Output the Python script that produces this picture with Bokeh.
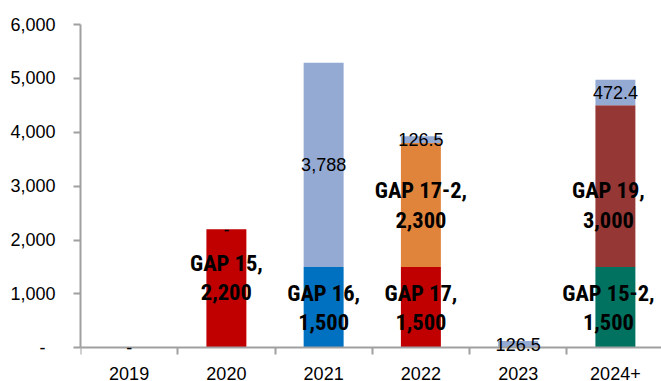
import numpy as np
from bokeh.plotting import figure
from bokeh.models import ColumnDataSource, FixedTicker, Range1d
from bokeh.core.properties import value
from bokeh.embed import file_html
from bokeh.resources import INLINE

# Delivery schedule by year, stacked by programme
years = ["2019", "2020", "2021", "2022", "2023", "2024+"]

base_names = ["", "GAP 15", "GAP 16", "GAP 17", "", "GAP 15-2"]
base_vals = [0, 2200, 1500, 1500, 0, 1500]
base_colors = ["#C00000", "#C00000", "#0070C0", "#C00000", "#C00000", "#00725F"]

mid_names = ["", "", "", "GAP 17-2", "", "GAP 19"]
mid_vals = [0, 0, 0, 2300, 0, 3000]
mid_colors = ["#E0843C", "#E0843C", "#E0843C", "#E0843C", "#E0843C", "#953735"]

other_vals = [0, 0, 3788, 126.5, 126.5, 472.4]
other_color = "#95AAD3"

y_ticks = [0, 1000, 2000, 3000, 4000, 5000, 6000]

LABEL_FONT = "'Roboto Condensed', 'Noto Sans Condensed', 'Liberation Sans', Arial, sans-serif"
TICK_FONT = "'Liberation Sans', Arial, sans-serif"
AXIS_GREY = "#A0A0A0"


def fmt(v):
    if v == 0:
        return "-"
    if float(v).is_integer():
        return f"{v:,.0f}"
    return f"{v:,.1f}"


n = len(years)
xs = np.arange(n) + 0.5
base = np.array(base_vals, dtype=float)
mid = np.array(mid_vals, dtype=float)
other = np.array(other_vals, dtype=float)

# the frame runs down to the bottom edge; the category axis sits at y = 0
p = figure(
    width=661, height=381,
    x_range=Range1d(0, 5.974), y_range=Range1d(-625, 6000),
    output_backend="svg", toolbar_location=None,
    min_border_left=80, min_border_right=0, min_border_top=24, min_border_bottom=0,
)
p.outline_line_color = None
p.xgrid.grid_line_color = None
p.ygrid.grid_line_color = None
p.background_fill_color = "white"
p.border_fill_color = "white"

BAR_W = 0.411

# stacked segments
segs = [
    (np.zeros(n), base, base_colors),
    (base, base + mid, mid_colors),
    (base + mid, base + mid + other, [other_color] * n),
]
for bottom, top, colors in segs:
    keep = top > bottom
    src = ColumnDataSource(dict(x=xs[keep], bottom=bottom[keep], top=top[keep],
                                color=[c for c, k in zip(colors, keep) if k]))
    p.vbar(x="x", bottom="bottom", top="top", width=BAR_W, fill_color="color",
           line_color=None, source=src)

# axes
xa = p.xaxis[0]
xa.fixed_location = 0
xa.ticker = FixedTicker(ticks=list(xs), minor_ticks=list(range(n + 1)))
xa.major_label_overrides = {float(x): y for x, y in zip(xs, years)}
xa.major_tick_line_color = None
xa.major_tick_in = 0
xa.major_tick_out = 0
xa.minor_tick_in = 0
xa.minor_tick_out = 7
xa.minor_tick_line_color = AXIS_GREY
xa.minor_tick_line_width = 2
xa.axis_line_color = AXIS_GREY
xa.axis_line_width = 2
xa.major_label_standoff = 12
xa.major_label_text_font = TICK_FONT
xa.major_label_text_font_size = "18px"
xa.major_label_text_color = "black"

ya = p.yaxis[0]
ya.bounds = (0, 6000)
ya.ticker = FixedTicker(ticks=y_ticks, minor_ticks=[])
ya.major_label_overrides = {t: ("-\u00a0\u00a0" if t == 0 else f"{t:,}") for t in y_ticks}
ya.major_tick_in = 0
ya.major_tick_out = 7
ya.major_tick_line_color = AXIS_GREY
ya.major_tick_line_width = 2
ya.axis_line_color = AXIS_GREY
ya.axis_line_width = 2
ya.major_label_standoff = 18
ya.major_label_text_font = TICK_FONT
ya.major_label_text_font_size = "18px"
ya.major_label_text_color = "black"

# bold programme labels, centred in their segments (last column nudged inwards)
bx, by, bt, bdx, bdy = [], [], [], [], []
for i in range(n):
    dx = -7 if i == n - 1 else 0
    if base_names[i]:
        bx.append(xs[i]); by.append(base[i] / 2)
        bt.append(f"{base_names[i]},\n{fmt(base[i])}")
        bdx.append(dx); bdy.append(-11 if i == 1 else 0)
    if mid_names[i]:
        bx.append(xs[i]); by.append(base[i] + mid[i] / 2)
        bt.append(f"{mid_names[i]},\n{fmt(mid[i])}")
        bdx.append(dx); bdy.append(19 if i == n - 1 else 0)
p.text(x="x", y="y", text="t", x_offset="dx", y_offset="dy",
       source=ColumnDataSource(dict(x=bx, y=by, t=bt, dx=bdx, dy=bdy)),
       text_font=value(LABEL_FONT), text_font_style="bold", text_font_size="22.5px",
       text_color="black", text_align="center", text_baseline="middle",
       text_line_height=1.13, level="overlay")

# values of the remaining segment ("-" where nothing is scheduled)
ox, oy, ot = [], [], []
for i in range(n):
    ox.append(xs[i])
    oy.append(base[i] + mid[i] + other[i] / 2)
    ot.append(fmt(other[i]))
p.text(x="x", y="y", text="t", source=ColumnDataSource(dict(x=ox, y=oy, t=ot)),
       text_font=value(TICK_FONT), text_font_size="18px", text_color="black",
       text_align="center", text_baseline="middle", level="overlay")

open("out.html", "w").write(file_html(p, INLINE))
